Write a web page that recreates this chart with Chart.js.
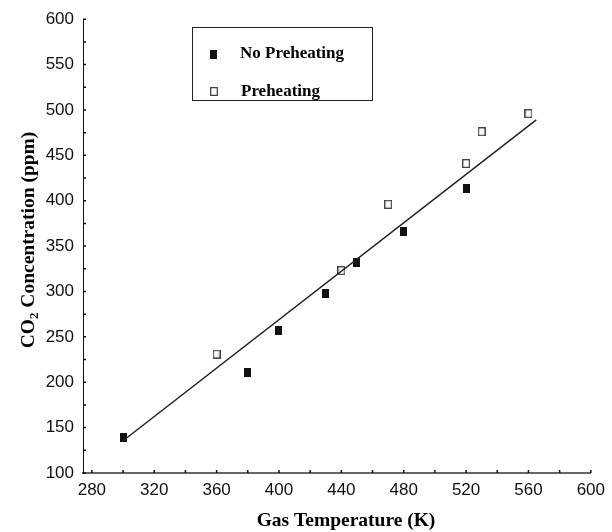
<!DOCTYPE html>
<html>
<head>
<meta charset="utf-8">
<script src="https://cdn.jsdelivr.net/npm/chart.js@4/dist/chart.umd.min.js"></script>
<style>
  html, body { margin: 0; padding: 0; background: #fff; }
  canvas { display: block; }
</style>
</head>
<body>
<canvas id="co2-chart" width="612" height="532"></canvas>
<script>
// measured points
const tempNoPreheat = [300, 380, 400, 430, 450, 480, 520];
const co2NoPreheat = [139, 211, 257, 298, 332, 366, 414];
const tempPreheat = [360, 440, 470, 520, 530, 560];
const co2Preheat = [231, 323, 396, 441, 476, 496];

// linear fit through both series
const fitTemp = [300, 565];
const fitCo2 = [135.5, 489];

const xTickValues = [280, 300, 320, 340, 360, 380, 400, 420, 440, 460, 480, 500, 520, 540, 560, 580, 600];
const yTickValues = [100, 125, 150, 175, 200, 225, 250, 275, 300, 325, 350, 375, 400, 425, 450, 475, 500, 525, 550, 575, 600];

const legendLabels = ["No Preheating", "Preheating"];
const xTitle = "Gas Temperature (K)";

const serif = "'Liberation Serif', 'Times New Roman', serif";
const sans = "'Liberation Sans', Arial, sans-serif";

function toPoints(xs, ys) {
  return xs.map((x, i) => ({ x: x, y: ys[i] }));
}

// slightly tall square markers, filled and hollow
function makeMarker(w, h, fill, stroke) {
  const c = document.createElement("canvas");
  c.width = w;
  c.height = h;
  const g = c.getContext("2d");
  g.fillStyle = fill;
  g.fillRect(0, 0, w, h);
  if (stroke) {
    g.strokeStyle = stroke;
    g.lineWidth = 1.3;
    g.strokeRect(0.65, 0.65, w - 1.3, h - 1.3);
  }
  return c;
}
const filledMarker = makeMarker(7, 9, "#111");
const hollowMarker = makeMarker(8, 9, "#fff", "#444");

// small tick marks pointing into the plot
const innerTicks = {
  id: "innerTicks",
  afterDraw(chart) {
    const { ctx, chartArea, scales } = chart;
    ctx.save();
    ctx.strokeStyle = "#111";
    ctx.lineWidth = 1.5;
    ctx.beginPath();
    for (const v of xTickValues) {
      const px = scales.x.getPixelForValue(v);
      ctx.moveTo(px, chartArea.bottom);
      ctx.lineTo(px, chartArea.bottom - 3);
    }
    for (const v of yTickValues) {
      const py = scales.y.getPixelForValue(v);
      ctx.moveTo(chartArea.left, py);
      ctx.lineTo(chartArea.left + 3, py);
    }
    ctx.stroke();
    ctx.restore();
  },
};

// axis titles (y title needs the subscript in CO2)
const axisTitles = {
  id: "axisTitles",
  afterDraw(chart) {
    const { ctx } = chart;
    ctx.save();
    ctx.fillStyle = "#000";
    ctx.font = "bold 19.5px " + serif;
    ctx.textAlign = "center";
    ctx.textBaseline = "alphabetic";
    ctx.fillText(xTitle, 346, 526);

    const big = "bold 19.5px " + serif;
    const small = "bold 13px " + serif;
    ctx.font = big;
    const wCO = ctx.measureText("CO").width;
    const wRest = ctx.measureText(" Concentration (ppm)").width;
    ctx.font = small;
    const wSub = ctx.measureText("2").width;
    const total = wCO + wSub + wRest;

    ctx.translate(34, 240);
    ctx.rotate(-Math.PI / 2);
    ctx.textAlign = "left";
    let x = -total / 2;
    ctx.font = big;
    ctx.fillText("CO", x, 0);
    x += wCO;
    ctx.font = small;
    ctx.fillText("2", x, 4);
    x += wSub;
    ctx.font = big;
    ctx.fillText(" Concentration (ppm)", x, 0);
    ctx.restore();
  },
};

// boxed legend in the upper left of the plot
const boxLegend = {
  id: "boxLegend",
  afterDraw(chart) {
    const { ctx } = chart;
    ctx.save();
    ctx.strokeStyle = "#222";
    ctx.lineWidth = 1;
    ctx.strokeRect(192.5, 27.5, 180, 73);

    ctx.drawImage(filledMarker, 210, 50);
    ctx.drawImage(hollowMarker, 210, 87);

    ctx.fillStyle = "#000";
    ctx.font = "bold 17px " + serif;
    ctx.textBaseline = "middle";
    ctx.textAlign = "left";
    ctx.fillText(legendLabels[0], 240, 54);
    ctx.fillText(legendLabels[1], 241, 92);
    ctx.restore();
  },
};

new Chart(document.getElementById("co2-chart"), {
  type: "scatter",
  data: {
    datasets: [
      {
        type: "line",
        label: "fit",
        data: toPoints(fitTemp, fitCo2),
        borderColor: "#222",
        borderWidth: 1.5,
        pointRadius: 0,
        fill: false,
      },
      {
        label: legendLabels[0],
        data: toPoints(tempNoPreheat, co2NoPreheat),
        pointStyle: filledMarker,
        pointRadius: 5,
      },
      {
        label: legendLabels[1],
        data: toPoints(tempPreheat, co2Preheat),
        pointStyle: hollowMarker,
        pointRadius: 5,
      },
    ],
  },
  options: {
    responsive: false,
    animation: false,
    devicePixelRatio: 1,
    layout: { padding: { top: 16, right: 19, left: 0, bottom: 0 } },
    plugins: {
      legend: { display: false },
      tooltip: { enabled: false },
    },
    scales: {
      x: {
        type: "linear",
        min: 274.3,
        max: 600,
        afterBuildTicks(scale) {
          scale.ticks = xTickValues.map((v) => ({ value: v }));
        },
        afterFit(scale) {
          scale.height = 59;
        },
        ticks: {
          autoSkip: false,
          maxRotation: 0,
          padding: 7,
          color: "#111",
          font: { family: sans, size: 17 },
          callback: (v) => (v % 40 === 0 ? String(v) : ""),
        },
        grid: { display: false, drawTicks: false },
        border: { display: true, color: "#666", width: 2 },
      },
      y: {
        type: "linear",
        min: 100,
        max: 600,
        afterBuildTicks(scale) {
          scale.ticks = yTickValues.map((v) => ({ value: v }));
        },
        afterFit(scale) {
          scale.width = 83;
        },
        ticks: {
          autoSkip: false,
          padding: 9,
          color: "#111",
          font: { family: sans, size: 17 },
          callback: (v) => (v % 50 === 0 ? String(v) : ""),
        },
        grid: { display: false, drawTicks: false },
        border: { display: true, color: "#111", width: 1 },
      },
    },
  },
  plugins: [innerTicks, axisTitles, boxLegend],
});
</script>
</body>
</html>
